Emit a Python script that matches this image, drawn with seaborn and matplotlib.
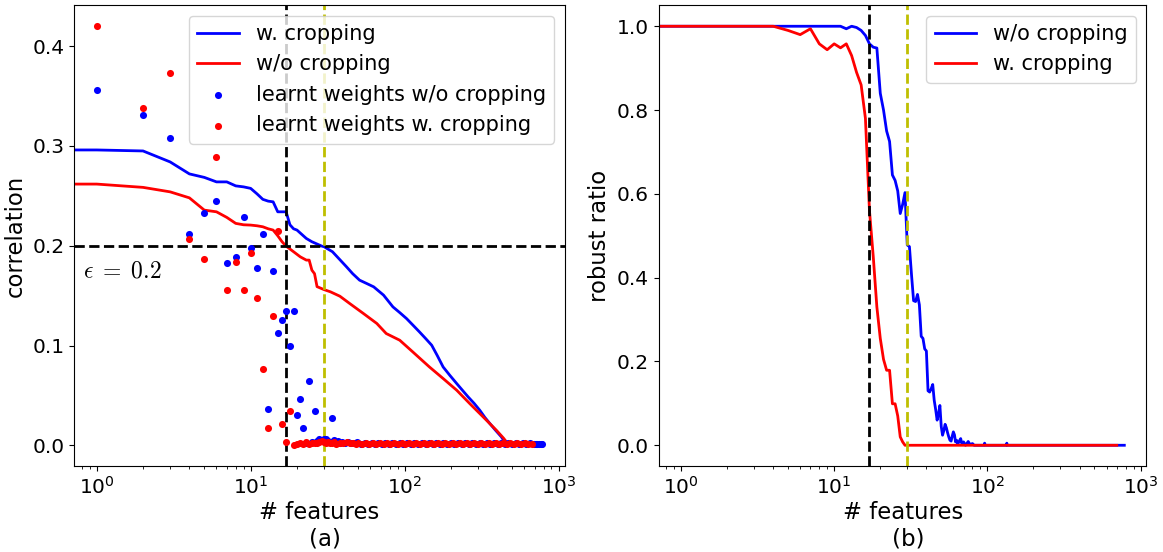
import numpy as np
import matplotlib
matplotlib.use("Agg")
import matplotlib.pyplot as plt
import seaborn as sns

# ---------------- panel (a): correlation vs # features ----------------
corr_wcrop_x = [0, 1, 2, 3, 4, 5, 6, 7, 8, 9, 10, 11, 12, 13, 14, 15, 17, 18, 19, 20, 23, 25,
                29, 30, 34, 38, 42, 46, 51, 57, 63, 73, 84, 93, 103, 114, 125, 137, 150, 163,
                178, 197, 218, 238, 259, 283, 308, 332, 358, 390, 426, 453, 470, 784]
corr_wcrop_y = [0.296, 0.296, 0.295, 0.284, 0.272, 0.2685, 0.264, 0.264, 0.260, 0.259, 0.2575,
                0.252, 0.2465, 0.2447, 0.244, 0.234, 0.234, 0.221, 0.217, 0.2157, 0.2073, 0.204,
                0.1996, 0.199, 0.194, 0.186, 0.1788, 0.172, 0.1655, 0.162, 0.1588, 0.1505, 0.1387,
                0.133, 0.127, 0.120, 0.1136, 0.107, 0.1003, 0.090, 0.0785, 0.070, 0.0619, 0.055,
                0.0484, 0.042, 0.0351, 0.028, 0.0218, 0.015, 0.0083, 0.002, 0.0, 0.0]

corr_nocrop_x = [0, 1, 2, 3, 4, 5, 6, 7, 8, 9, 10, 11, 12, 13, 14, 15, 16, 17, 19, 21, 23, 24,
                 25, 26, 27, 30, 33, 38, 44, 54, 66, 76, 93, 113, 145, 178, 218, 265, 324, 395,
                 440, 477, 700]
corr_nocrop_y = [0.2618, 0.2618, 0.2585, 0.254, 0.248, 0.2357, 0.234, 0.2284, 0.2224, 0.221,
                 0.2207, 0.220, 0.219, 0.217, 0.2157, 0.210, 0.204, 0.1996, 0.194, 0.1889,
                 0.1856, 0.1856, 0.1755, 0.172, 0.159, 0.156, 0.1538, 0.1494, 0.1421, 0.1321,
                 0.1221, 0.112, 0.1053, 0.0936, 0.0785, 0.0669, 0.0552, 0.0418, 0.0284, 0.015,
                 0.007, 0.0, 0.0]

# learnt weights (first features, read individually)
w_nocrop_x = [1, 2, 3, 4, 5, 6, 7, 8, 9, 10, 11, 12, 13, 14, 15, 16, 17, 18, 19, 20, 21, 22, 24, 26, 34]
w_nocrop_y = [0.356, 0.331, 0.308, 0.212, 0.233, 0.245, 0.183, 0.189, 0.229, 0.198, 0.178, 0.212,
              0.036, 0.175, 0.113, 0.126, 0.135, 0.099, 0.135, 0.030, 0.046, 0.017, 0.064, 0.034, 0.027]
w_crop_x = [1, 2, 3, 4, 5, 6, 7, 8, 9, 10, 11, 12, 13, 14, 15, 16, 17, 18]
w_crop_y = [0.420, 0.338, 0.373, 0.207, 0.187, 0.289, 0.156, 0.184, 0.156, 0.193, 0.148, 0.076,
            0.017, 0.130, 0.215, 0.021, 0.003, 0.034]

# learnt weights, near-zero tail
w_nocrop_tail = [(23, 0.002), (25, 0.003), (27, 0.004), (28, 0.006), (29, 0.005), (30, 0.006),
                 (31, 0.006), (32, 0.004), (33, 0.003), (35, 0.005), (36, 0.003), (37, 0.004),
                 (38, 0.002), (39, 0.003), (41, 0.002), (43, 0.003), (45, 0.002), (47, 0.002),
                 (49, 0.003), (52, 0.001), (55, 0.002), (58, 0.001), (61, 0.002), (64, 0.001),
                 (67, 0.002), (71, 0.001), (75, 0.002), (79, 0.001), (83, 0.002), (88, 0.001),
                 (93, 0.002), (98, 0.001), (104, 0.002), (110, 0.001), (116, 0.002), (123, 0.001),
                 (130, 0.002), (137, 0.001), (144, 0.002), (152, 0.001), (160, 0.002), (170, 0.001),
                 (179, 0.002), (189, 0.001), (200, 0.002), (211, 0.001), (222, 0.002), (235, 0.001),
                 (248, 0.002), (261, 0.001), (276, 0.002), (291, 0.001), (307, 0.002), (324, 0.001),
                 (342, 0.002), (361, 0.001), (381, 0.002), (402, 0.001), (424, 0.002), (448, 0.001),
                 (473, 0.002), (499, 0.001), (527, 0.002), (556, 0.001), (587, 0.002), (619, 0.001),
                 (653, 0.002), (689, 0.001), (710, 0.001), (730, 0.001), (750, 0.001), (770, 0.001),
                 (784, 0.001)]
w_crop_tail = [(19, 0.0005), (20, 0.001), (21, 0.002), (22, 0.0015), (23, 0.003), (24, 0.001),
               (25, 0.002), (26, 0.0025), (27, 0.002), (28, 0.003), (29, 0.004), (30, 0.0035),
               (31, 0.002), (32, 0.003), (33, 0.0025), (34, 0.002), (35, 0.003), (36, 0.0015),
               (38, 0.0025), (40, 0.002), (42, 0.003), (44, 0.002), (46, 0.0025), (48, 0.0015),
               (50, 0.002), (53, 0.001), (56, 0.002), (59, 0.0015), (62, 0.002), (65, 0.001),
               (69, 0.002), (73, 0.0015), (77, 0.002), (81, 0.001), (86, 0.002), (91, 0.0015),
               (96, 0.002), (101, 0.001), (107, 0.002), (113, 0.0015), (119, 0.002), (126, 0.001),
               (133, 0.002), (140, 0.0015), (148, 0.002), (156, 0.001), (165, 0.002), (174, 0.0015),
               (184, 0.002), (194, 0.001), (205, 0.002), (216, 0.0015), (228, 0.002), (241, 0.001),
               (254, 0.002), (268, 0.0015), (283, 0.002), (299, 0.001), (315, 0.002), (333, 0.0015),
               (351, 0.002), (371, 0.001), (391, 0.002), (413, 0.0015), (436, 0.002), (460, 0.001),
               (486, 0.002), (513, 0.0015), (541, 0.002), (571, 0.001), (603, 0.002), (636, 0.0015),
               (670, 0.001)]

# ---------------- panel (b): robust ratio vs # features ----------------
robust_nocrop_x = [0, 1, 11, 12, 13, 14, 15, 16, 17, 18, 19, 20, 21, 22, 23, 24, 25, 26, 27, 28,
                   29, 30, 31, 32, 33, 34, 35, 36, 37, 38, 39, 40, 41, 42, 43, 44, 45, 46, 47, 48,
                   49, 50, 51, 52, 53, 54, 55, 56, 57, 58, 59, 60, 61, 62, 63, 64, 66, 67, 68, 70,
                   72, 75, 77, 80, 82, 95, 96, 97, 133, 134, 135, 784]
robust_nocrop_y = [1.0, 1.0, 1.0, 0.994, 1.0, 0.997, 0.99, 0.978, 0.958, 0.95, 0.948, 0.84, 0.80,
                   0.75, 0.725, 0.645, 0.632, 0.607, 0.553, 0.575, 0.603, 0.478, 0.474, 0.406,
                   0.345, 0.343, 0.36, 0.335, 0.26, 0.255, 0.23, 0.225, 0.13, 0.127, 0.135, 0.145,
                   0.107, 0.085, 0.06, 0.075, 0.095, 0.045, 0.024, 0.035, 0.05, 0.042, 0.03, 0.02,
                   0.012, 0.01, 0.022, 0.032, 0.025, 0.008, 0.012, 0.002, 0.012, 0.016, 0.005,
                   0.008, 0.0, 0.009, 0.002, 0.004, 0.0, 0.0, 0.005, 0.0, 0.0, 0.005, 0.0, 0.0]
robust_crop_x = [0, 1, 4, 5, 6, 7, 8, 9, 10, 11, 12, 13, 14, 15, 16, 17, 18, 19, 20, 21, 22, 23,
                 24, 25, 26, 27, 28, 29, 700]
robust_crop_y = [1.0, 1.0, 1.0, 0.99, 0.98, 0.994, 0.958, 0.944, 0.958, 0.9485, 0.958, 0.93,
                 0.89, 0.86, 0.78, 0.56, 0.45, 0.33, 0.255, 0.205, 0.179, 0.179, 0.099, 0.099,
                 0.07, 0.02, 0.008, 0.0, 0.0]

# reference levels
eps_level = 0.2
k_black = 17
k_yellow = 30

FS_LEG = 15
FS_LAB = 16.4
FS_TICK = 14.5
fig = plt.figure(figsize=(11.63, 5.52), dpi=100)
ax1 = fig.add_axes([0.064, 0.1554, 0.4214, 0.835])
ax2 = fig.add_axes([0.5665, 0.1554, 0.4193, 0.835])

# ----- panel (a)
sns.lineplot(x=corr_wcrop_x, y=corr_wcrop_y, color="b", lw=2, label="w. cropping",
             estimator=None, sort=False, ax=ax1)
sns.lineplot(x=corr_nocrop_x, y=corr_nocrop_y, color="r", lw=2, label="w/o cropping",
             estimator=None, sort=False, ax=ax1)
bx = w_nocrop_x + [p[0] for p in w_nocrop_tail]
by = w_nocrop_y + [p[1] for p in w_nocrop_tail]
rx = w_crop_x + [p[0] for p in w_crop_tail]
ry = w_crop_y + [p[1] for p in w_crop_tail]
sns.scatterplot(x=bx, y=by, color="b", s=26, linewidth=0, zorder=3,
                label="learnt weights w/o cropping", ax=ax1)
sns.scatterplot(x=rx, y=ry, color="r", s=26, linewidth=0, zorder=3,
                label="learnt weights w. cropping", ax=ax1)
ax1.axhline(eps_level, color="k", ls="--", lw=2)
ax1.axvline(k_black, color="k", ls="--", lw=2)
ax1.axvline(k_yellow, color="y", ls="--", lw=2)
ax1.set_xscale("log")
ax1.set_xlim(0.7167, 1094)
ax1.set_ylim(-0.021, 0.441)
ax1.set_yticks([0.0, 0.1, 0.2, 0.3, 0.4])
ax1.text(0.81, 0.175, r"$\epsilon\;=\;0.2$", fontsize=17, va="center", ha="left",
         math_fontfamily="cm")
ax1.set_xlabel("# features", fontsize=FS_LAB)
ax1.set_ylabel("correlation", fontsize=FS_LAB)
ax1.legend(loc="upper right", fontsize=FS_LEG)

# ----- panel (b)
sns.lineplot(x=robust_nocrop_x, y=robust_nocrop_y, color="b", lw=2, label="w/o cropping",
             estimator=None, sort=False, ax=ax2)
sns.lineplot(x=robust_crop_x, y=robust_crop_y, color="r", lw=2, label="w. cropping",
             estimator=None, sort=False, ax=ax2)
ax2.axvline(k_black, color="k", ls="--", lw=2)
ax2.axvline(k_yellow, color="y", ls="--", lw=2)
ax2.set_xscale("log")
ax2.set_xlim(0.7167, 1094)
ax2.set_ylim(-0.05, 1.05)
ax2.set_yticks([0.0, 0.2, 0.4, 0.6, 0.8, 1.0])
ax2.set_xlabel("# features", fontsize=FS_LAB)
ax2.set_ylabel("robust ratio", fontsize=FS_LAB)
ax2.legend(loc="upper right", fontsize=FS_LEG)

for ax, tag in ((ax1, "(a)"), (ax2, "(b)")):
    ax.tick_params(labelsize=FS_TICK)
    ax.xaxis.labelpad = 2
    ax.text(0.512, -0.132, tag, transform=ax.transAxes, ha="center", va="top",
            fontsize=16.5)

fig.savefig("out.png", dpi=100)
